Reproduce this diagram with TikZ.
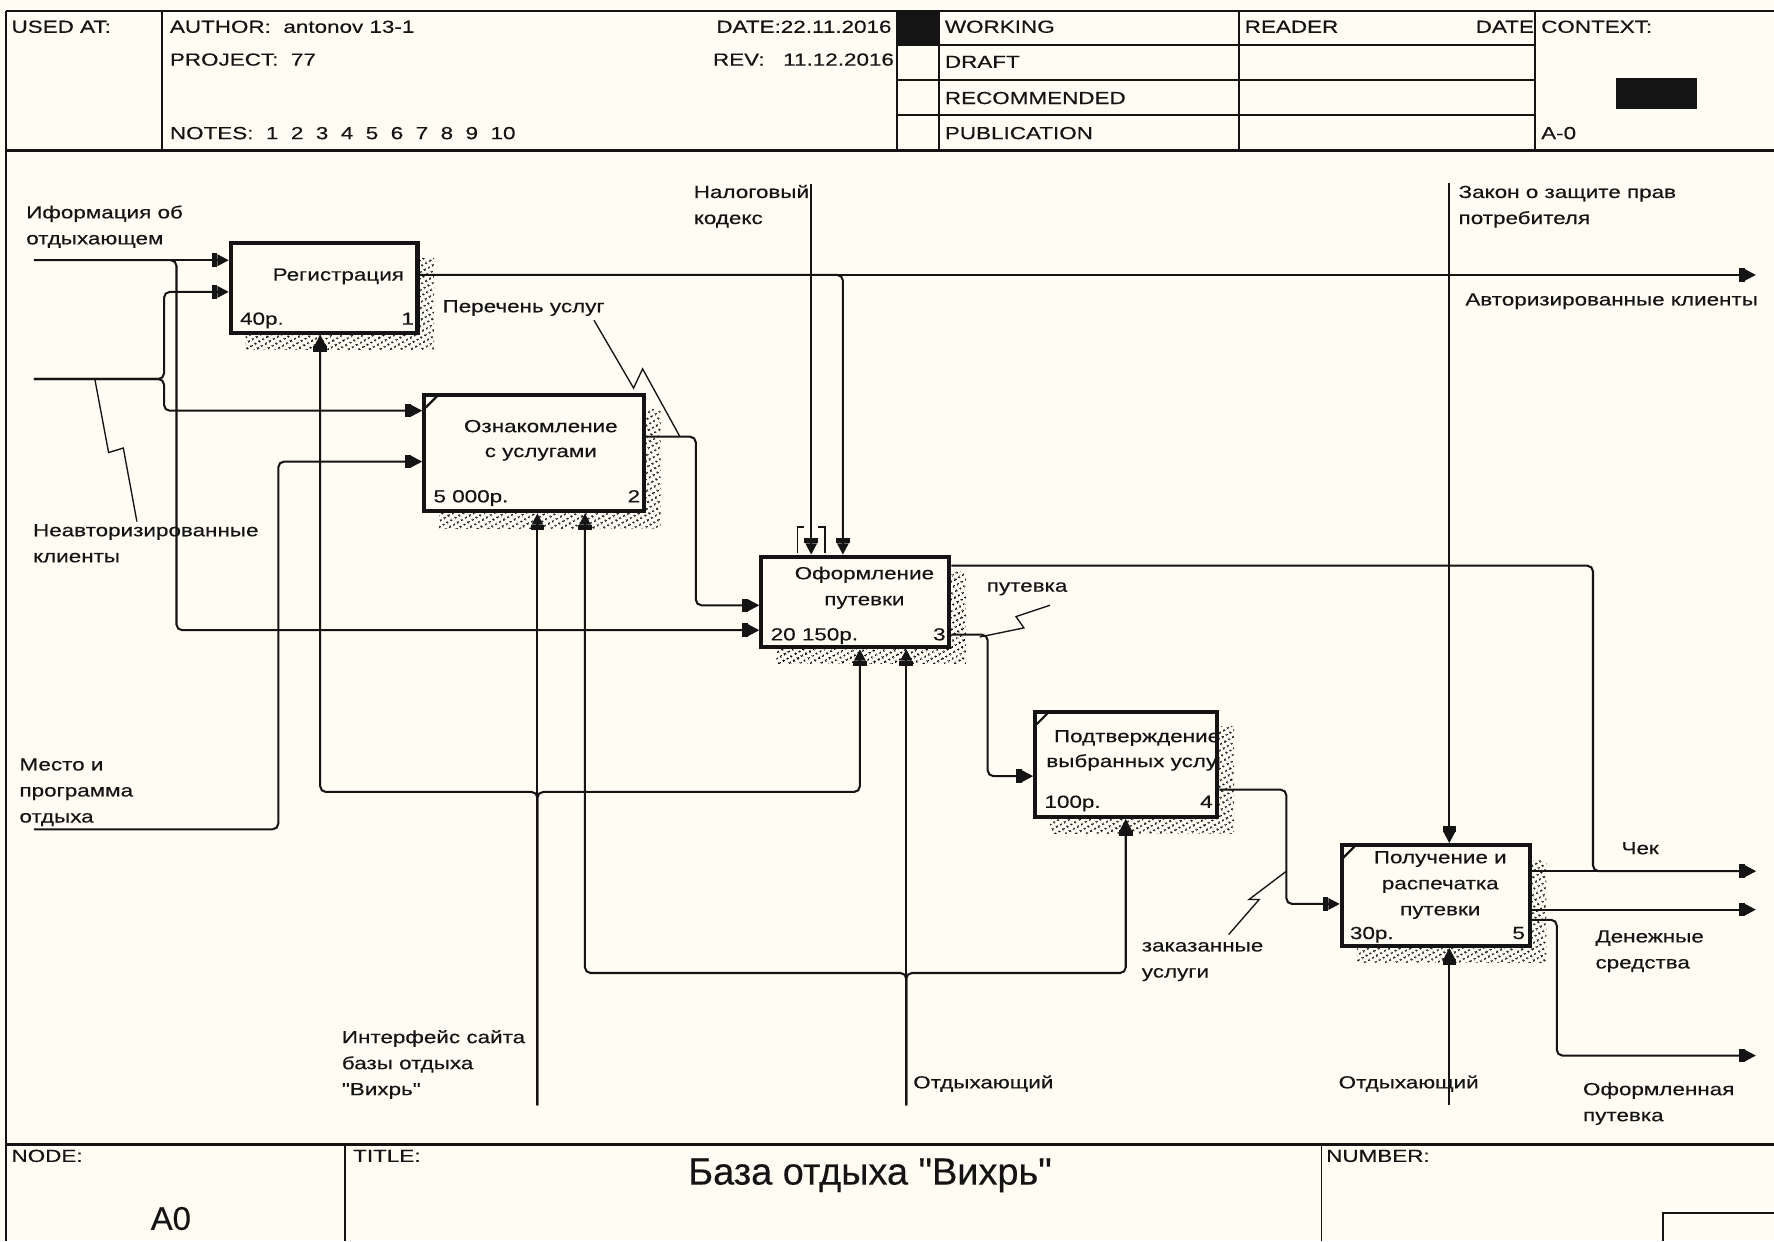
\documentclass[tikz,border=0pt]{standalone}
\usepackage{fontspec}
\usetikzlibrary{arrows.meta,patterns.meta,calc}
\newfontfamily\lblfont{Liberation Sans}[FakeStretch=1.28,FakeBold=0.35]
\newfontfamily\bigfont{Liberation Sans}[FakeBold=0.3]
\definecolor{bgc}{RGB}{254,252,243}
\definecolor{ink}{RGB}{20,20,20}
\pgfdeclarelayer{bglayer}
\pgfdeclarelayer{shadowlayer}
\pgfsetlayers{bglayer,shadowlayer,main}
\begin{document}
\begin{tikzpicture}[x=1pt,y=-1pt,
  conn/.style={line width=1.8pt, draw=ink, rounded corners=5pt},
  arr/.style={-{Rectangle[length=5pt,width=12pt] Triangle[length=10pt,width=10pt]}},
  squig/.style={line width=1.2pt, draw=ink},
  frameline/.style={line width=1.6pt, draw=ink},
  heavyline/.style={line width=2.6pt, draw=ink},
  abox/.style={draw=ink, line width=3.6pt, fill=bgc, inner sep=0},
  txt/.style={font={\lblfont\fontsize{15.5}{23}\selectfont}, inner sep=0, text=ink},
  lb/.style={txt, anchor=base west, align=left},
  ct/.style={txt, anchor=base},
  shadowfill/.style={pattern={Dots[radius=1.15pt,distance=4pt,angle=30]}, pattern color=ink},
  notch/.style={draw=ink, line width=2pt}
]
\useasboundingbox (0,0) rectangle (1568,1097);
\begin{pgfonlayer}{bglayer}
\fill[bgc] (0,0) rectangle (1568,1097);
\end{pgfonlayer}

% ---------- header ----------
\node[lb] (hUsed) at (10,29) {USED AT:};
\node[lb] (hAuthor) at (150,29) {AUTHOR:\ \ antonov 13-1};
\node[lb] (hProject) at (150,58) {PROJECT:\ \ 77};
\node[lb] (hNotes) at (150,123) {NOTES:\ \ 1\ \ 2\ \ 3\ \ 4\ \ 5\ \ 6\ \ 7\ \ 8\ \ 9\ \ 10};
\node[lb] (hDate) at (633,29) {DATE:22.11.2016};
\node[lb] (hRev) at (630,58) {REV:\ \ \ 11.12.2016};
\node[lb] (hWork) at (835,29) {WORKING};
\node[lb] (hDraft) at (835,60) {DRAFT};
\node[lb] (hRec) at (835,92) {RECOMMENDED};
\node[lb] (hPub) at (835,123) {PUBLICATION};
\node[lb] (hReader) at (1100,29) {READER};
\node[txt, anchor=base east] (hDate2) at (1356,29) {DATE};
\node[lb] (hContext) at (1362,29) {CONTEXT:};
\node[lb] (hA0) at (1362,123) {A-0};

\draw[frameline] (5,10) -- (1568,10);
\draw[frameline] (5,10) -- (5,1097);
\draw[heavyline] (5,133) -- (1568,133);
\draw[frameline] (143,10) -- (143,133);
\draw[frameline] (793,10) -- (793,133);
\draw[frameline] (830,10) -- (830,133);
\draw[frameline] (1095,10) -- (1095,133);
\draw[frameline] (1357,10) -- (1357,133);
\draw[frameline] (793,40) -- (1357,40);
\draw[frameline] (793,71) -- (1357,71);
\draw[frameline] (793,102) -- (1357,102);
\fill[ink] (793,10) rectangle (830,40);
\fill[ink] (1428,69) rectangle (1500,96);

% ---------- footer ----------
\draw[heavyline] (5,1012) -- (1568,1012);
\draw[frameline] (305,1012) -- (305,1097);
\draw[frameline] (1168,1012) -- (1168,1097);
\draw[frameline] (1470,1097) -- (1470,1072) -- (1568,1072);
\node[lb] (fNode) at (10,1027) {NODE:};
\node[lb] (fTitle) at (312,1027) {TITLE:};
\node[lb] (fNumber) at (1172,1027) {NUMBER:};
\node[font={\bigfont\fontsize{29}{34}\selectfont}, inner sep=0, anchor=base, text=ink] (fA0) at (151,1087) {A0};
\node[font={\bigfont\fontsize{33.5}{38}\selectfont}, inner sep=0, anchor=base, text=ink] (fMain) at (769,1047) {База отдыха "Вихрь"};

% ---------- activity boxes ----------
\node[abox, minimum width=165pt, minimum height=79pt] (b1) at (286.5,254.5) {};
\node[abox, minimum width=194pt, minimum height=103pt] (b2) at (472,400.5) {};
\node[abox, minimum width=166pt, minimum height=80pt] (b3) at (756,532) {};
\node[abox, minimum width=161pt, minimum height=93pt] (b4) at (995.5,675.5) {};
\node[abox, minimum width=166pt, minimum height=89pt] (b5) at (1269,791.5) {};

\begin{pgfonlayer}{shadowlayer}
\foreach \b in {b1,b2,b3,b4,b5}{
  \fill[shadowfill] ($(\b.north west)+(15,15)$) rectangle ($(\b.south east)+(13,13)$);
}
\end{pgfonlayer}

\draw[notch] ($(b2.north west)+(3,13)$) -- ($(b2.north west)+(13,3)$);
\draw[notch] ($(b4.north west)+(3,13)$) -- ($(b4.north west)+(13,3)$);
\draw[notch] ($(b5.north west)+(3,13)$) -- ($(b5.north west)+(13,3)$);

% box texts
\node[ct] (b1a) at (299,248) {Регистрация};
\node[lb] (b1c) at (212,287) {40р.};
\node[txt, anchor=base east] (b1n) at (366,287) {1};
\node[ct] (b2a) at (478,382) {Ознакомление};
\node[ct] (b2b) at (478,404) {с услугами};
\node[lb] (b2c) at (383,444) {5 000р.};
\node[txt, anchor=base east] (b2n) at (566,444) {2};
\node[ct] (b3a) at (764,512) {Оформление};
\node[ct] (b3b) at (764,535) {путевки};
\node[lb] (b3c) at (681,566) {20 150р.};
\node[txt, anchor=base east] (b3n) at (836,566) {3};
\begin{scope}
\clip (b4.north west) rectangle (b4.south east);
\node[ct] (b4a) at (1005,656) {Подтверждение};
\node[ct] (b4b) at (1004,678) {выбранных услуг};
\end{scope}
\node[lb] (b4c) at (923,714) {100р.};
\node[txt, anchor=base east] (b4n) at (1072,714) {4};
\node[ct] (b5a) at (1273,763) {Получение и};
\node[ct] (b5b) at (1273,786) {распечатка};
\node[ct] (b5d) at (1273,809) {путевки};
\node[lb] (b5c) at (1193,830) {30р.};
\node[txt, anchor=base east] (b5n) at (1348,830) {5};

% tunnel brackets
\draw[line width=1.3pt, ink] (711,466) -- (705,466) -- (705,489);
\draw[line width=1.3pt, ink] (723,466) -- (729,466) -- (729,489);

% ---------- free ends ----------
\coordinate (inInfo) at (30,230);
\coordinate (inUnauth) at (30,335);
\coordinate (inPlace) at (30,733);
\coordinate (ctlTax) at (717,163);
\coordinate (ctlLaw) at (1281,162);
\coordinate (mechIface) at (475,977);
\coordinate (mechGuest) at (801,977);
\coordinate (mechGuest2) at (1281,977);
\coordinate (outAuth) at (1552,243);
\coordinate (outCheck) at (1552,770);
\coordinate (outMoney) at (1552,804);
\coordinate (outVoucher) at (1552,933);

% ---------- connectors ----------
\draw[conn,arr] (inInfo) -- (inInfo -| b1.west);
\draw[conn,arr] (inInfo) -- (156,230) -- (156,557) -- (b3.west |- 0,557);
\draw[conn,arr] (inUnauth) -- (145,335) -- (145,258) -- (b1.west |- 0,258);
\draw[conn,arr] (inUnauth) -- (145,335) -- (145,363) -- (b2.west |- 0,363);
\draw[conn,arr] (inPlace) -- (246,733) -- (246,408) -- (b2.west |- 0,408);

\draw[conn,arr] (b1.east |- 0,243) -- (outAuth);
\draw[conn,arr] (b1.east |- 0,243) -- (745,243) -- (b3.north -| 745,0);
\draw[conn,arr] (b2.east |- 0,386) -- (615,386) -- (615,535) -- (b3.west |- 0,535);
\draw[conn,arr] (ctlTax) -- (ctlTax |- b3.north);

\draw[conn,arr] (b3.east |- 0,500) -- (1408,500) -- (1408,770) -- (outCheck);
\draw[conn,arr] (b3.east |- 0,561) -- (873,561) -- (873,686) -- (b4.west |- 0,686);
\draw[conn,arr] (b4.east |- 0,698) -- (1137,698) -- (1137,799) -- (b5.west |- 0,799);
\draw[conn,arr] (ctlLaw) -- (ctlLaw |- b5.north);

\draw[conn,arr] (b5.east |- 0,770) -- (outCheck);
\draw[conn,arr] (b5.east |- 0,804) -- (outMoney);
\draw[conn,arr] (b5.east |- 0,813) -- (1376,813) -- (1376,933) -- (outVoucher);

\draw[conn,arr] (mechIface) -- (mechIface |- b2.south);
\draw[conn,arr] (mechIface) -- (475,700) -- (283,700) -- (b1.south -| 283,0);
\draw[conn,arr] (mechIface) -- (475,700) -- (760,700) -- (b3.south -| 760,0);
\draw[conn,arr] (mechGuest) -- (mechGuest |- b3.south);
\draw[conn,arr] (mechGuest) -- (801,860) -- (517,860) -- (b2.south -| 517,0);
\draw[conn,arr] (mechGuest) -- (801,860) -- (995,860) -- (b4.south -| 995,0);
\draw[conn,arr] (mechGuest2) -- (mechGuest2 |- b5.south);

% squiggles
\draw[squig] (84,336) -- (96,400) -- (109,396) -- (121,461);
\draw[squig] (525,283) -- (560,343) -- (568,326) -- (601,386);
\draw[squig] (928,535) -- (898,545) -- (905,555) -- (866,563);
\draw[squig] (1086,826) -- (1113,795) -- (1104,795) -- (1137,770);

% ---------- arrow labels (base = last line) ----------
\node[lb] (tInfo) at (23,216) {Иформация об\\отдыхающем};
\node[lb] (tUnauth) at (29,497) {Неавторизированные\\клиенты};
\node[lb] (tPlace) at (17,727) {Место и\\программа\\отдыха};
\node[lb] (tList) at (391,276) {Перечень услуг};
\node[lb] (tTax) at (613,198) {Налоговый\\кодекс};
\node[lb] (tLaw) at (1289,198) {Закон о защите прав\\потребителя};
\node[lb] (tAuth) at (1295,270) {Авторизированные клиенты};
\node[lb] (tVoucher) at (872,523) {путевка};
\node[lb] (tOrdered) at (1009,864) {заказанные\\услуги};
\node[lb] (tCheck) at (1433,755) {Чек};
\node[lb] (tMoney) at (1410,856) {Денежные\\средства};
\node[lb] (tDone) at (1399,991) {Оформленная\\путевка};
\node[lb] (tIface) at (302,968) {Интерфейс сайта\\базы отдыха\\"Вихрь"};
\node[lb] (tGuest) at (807,962) {Отдыхающий};
\node[lb] (tGuest2) at (1183,962) {Отдыхающий};
\end{tikzpicture}
\end{document}
